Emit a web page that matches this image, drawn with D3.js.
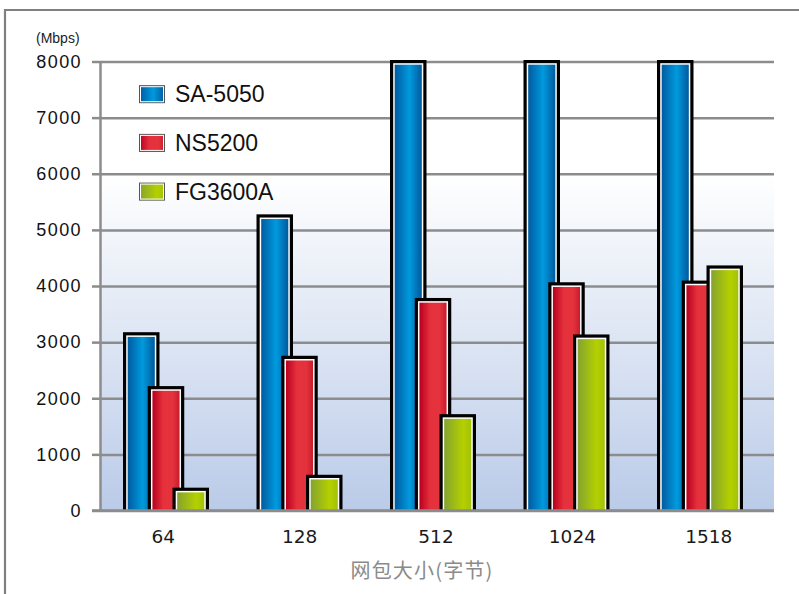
<!DOCTYPE html>
<html>
<head>
<meta charset="utf-8">
<title>网包大小 吞吐量</title>
<script src="https://cdn.jsdelivr.net/npm/d3@7"></script>
<style>
  html, body { margin: 0; padding: 0; background: #fff; }
  #bar-chart svg { display: block; }
</style>
</head>
<body>
<div id="bar-chart"></div>
<script>
// data (Mbps)
const categories = ['64', '128', '512', '1024', '1518'];
const seriesNames = ['SA-5050', 'NS5200', 'FG3600A'];
const sa5050 = [3150, 5250, 8000, 8000, 8000];
const ns5200 = [2190, 2730, 3760, 4040, 4070];
const fg3600a = [380, 610, 1690, 3110, 4340];
const yTicks = [0, 1000, 2000, 3000, 4000, 5000, 6000, 7000, 8000];
const unitLabel = '(Mbps)';
const xTitle = '网包大小(字节)';

/**
 * Build a horizontal gradient for the bar fills
 */
function addGradient(defs, id, stops) {
  const grad = defs.append('linearGradient')
    .attr('id', id)
    .attr('x1', '0%').attr('x2', '100%')
    .attr('y1', '0%').attr('y2', '0%');
  stops.forEach(s => {
    grad.append('stop')
      .attr('offset', s[0])
      .attr('stop-color', s[1]);
  });
}

/**
 * Draw the grouped bar chart
 */
function createBarChart() {
  // constants
  const SVG_WIDTH = 799;
  const SVG_HEIGHT = 594;
  const LEFT = 100;
  const RIGHT = 774;
  const TOP = 61.5;
  const BOTTOM = 510.5;
  const BAR_WIDTH = 36.5;

  const values = [sa5050, ns5200, fg3600a];
  const fills = ['url(#g-blue)', 'url(#g-red)', 'url(#g-green)'];

  const svg = d3.select('#bar-chart').append('svg')
    .attr('width', SVG_WIDTH)
    .attr('height', SVG_HEIGHT);
  const defs = svg.append('defs');

  addGradient(defs, 'g-blue', [[0, '#005ba1'], [0.55, '#009ade'], [1, '#005a9d']]);
  addGradient(defs, 'g-red', [[0, '#b8001f'], [0.4, '#e6313c'], [0.75, '#e3333d'], [1, '#c81b2b']]);
  addGradient(defs, 'g-green', [[0, '#85a32f'], [0.7, '#b4d000'], [1, '#a3c10b']]);

  const bg = defs.append('linearGradient')
    .attr('id', 'g-bg')
    .attr('x1', '0%').attr('x2', '0%')
    .attr('y1', '0%').attr('y2', '100%');
  bg.append('stop').attr('offset', 0).attr('stop-color', '#ffffff');
  bg.append('stop').attr('offset', 0.25).attr('stop-color', '#ffffff');
  bg.append('stop').attr('offset', 1).attr('stop-color', '#bacbe8');

  // outer frame (top and left only)
  svg.append('path')
    .attr('d', `M5,594V10H799`)
    .attr('fill', 'none')
    .attr('stroke', '#808080')
    .attr('stroke-width', 2.2);

  // scales
  const y = d3.scaleLinear()
    .domain([0, 8000])
    .range([BOTTOM, TOP]);
  const x0 = d3.scaleBand()
    .domain(categories)
    .range([LEFT + 23, LEFT + 23 + 133.5 * 5]);
  const x1 = d3.scalePoint()
    .domain(seriesNames)
    .range([0, 49.5]);
  const xLabels = d3.scaleBand()
    .domain(categories)
    .range([95, 777]);

  // plot background
  svg.append('rect')
    .attr('x', LEFT)
    .attr('y', TOP)
    .attr('width', RIGHT - LEFT)
    .attr('height', BOTTOM - TOP)
    .attr('fill', 'url(#g-bg)');

  // gridlines
  const grid = svg.append('g')
    .attr('transform', `translate(${LEFT},0)`)
    .call(d3.axisLeft(y).tickValues(yTicks).tickSize(-(RIGHT - LEFT)).tickFormat(''));
  grid.select('.domain').remove();
  grid.selectAll('line')
    .attr('stroke', '#8c8c8c')
    .attr('stroke-width', 2.5);

  // bars, series drawn in order so later ones overlap earlier ones
  values.forEach((vals, si) => {
    const g = svg.append('g');
    const name = seriesNames[si];
    const bars = g.selectAll('g')
      .data(vals)
      .join('g')
        .attr('transform', (d, i) => `translate(${x0(categories[i]) + x1(name)},0)`);

    bars.append('rect')
      .attr('x', 0)
      .attr('y', d => y(d) - 1.5)
      .attr('width', BAR_WIDTH)
      .attr('height', d => BOTTOM - y(d) + 1.5)
      .attr('fill', '#000');
    bars.append('rect')
      .attr('x', 3.2)
      .attr('y', d => y(d) + 1.7)
      .attr('width', BAR_WIDTH - 6.4)
      .attr('height', d => Math.max(0, BOTTOM - y(d) - 2.2))
      .attr('fill', '#fff');
    bars.append('rect')
      .attr('x', 4.7)
      .attr('y', d => y(d) + 3.2)
      .attr('width', BAR_WIDTH - 9.4)
      .attr('height', d => Math.max(0, BOTTOM - y(d) - 3.7))
      .attr('fill', fills[si]);
  });

  // baseline over the bar bottoms
  svg.append('line')
    .attr('x1', 92).attr('x2', RIGHT)
    .attr('y1', y(0)).attr('y2', y(0))
    .attr('stroke', '#8c8c8c')
    .attr('stroke-width', 2.5);

  // y axis with ticks and labels
  const yAxis = svg.append('g')
    .attr('transform', `translate(${LEFT},0)`)
    .call(d3.axisLeft(y).tickValues(yTicks).tickFormat(d3.format('d'))
      .tickSize(8).tickSizeOuter(0).tickPadding(10));
  yAxis.select('.domain')
    .attr('stroke', '#8c8c8c')
    .attr('stroke-width', 2.5);
  yAxis.selectAll('line')
    .attr('stroke', '#8c8c8c')
    .attr('stroke-width', 2.5);
  yAxis.selectAll('text')
    .attr('font-family', '"Liberation Sans", Arial, sans-serif')
    .attr('font-size', 18)
    .attr('letter-spacing', 1.4)
    .attr('fill', '#111');

  // x axis labels
  const xAxis = svg.append('g')
    .attr('transform', `translate(0,${BOTTOM})`)
    .call(d3.axisBottom(xLabels).tickSize(0).tickPadding(19.5));
  xAxis.select('.domain').remove();
  xAxis.selectAll('text')
    .attr('font-family', '"DejaVu Sans", Verdana, sans-serif')
    .attr('font-size', 18.5)
    .attr('fill', '#1a1a1a');

  // unit label
  svg.append('text')
    .attr('x', 36)
    .attr('y', 43)
    .attr('font-family', '"Liberation Sans", Arial, sans-serif')
    .attr('font-size', 14)
    .attr('fill', '#222')
    .text(unitLabel);

  // x axis title
  svg.append('text')
    .attr('x', 422)
    .attr('y', 578)
    .attr('text-anchor', 'middle')
    .attr('font-family', '"Noto Sans CJK SC", sans-serif')
    .attr('font-size', 20)
    .attr('letter-spacing', 1.2)
    .attr('fill', '#8a8a8a')
    .text(xTitle);

  // legend
  const legend = svg.append('g')
    .selectAll('g')
    .data(seriesNames)
    .join('g')
      .attr('transform', (d, i) => `translate(139,${94.2 + i * 48.7})`);
  legend.append('rect')
    .attr('x', 0.5).attr('y', -8.5)
    .attr('width', 25).attr('height', 17)
    .attr('fill', (d, i) => fills[i])
    .attr('stroke', '#555')
    .attr('stroke-width', 1);
  legend.append('rect')
    .attr('x', 1.5).attr('y', -7.5)
    .attr('width', 23).attr('height', 15)
    .attr('fill', 'none')
    .attr('stroke', '#fff')
    .attr('stroke-width', 1);
  legend.append('text')
    .attr('x', 36)
    .attr('dy', '0.36em')
    .attr('font-family', '"Liberation Sans", Arial, sans-serif')
    .attr('font-size', 23)
    .attr('fill', '#111')
    .text(d => d);
}

/**
 * Entry point
 */
(function main() {
  createBarChart();
})();
</script>
</body>
</html>
